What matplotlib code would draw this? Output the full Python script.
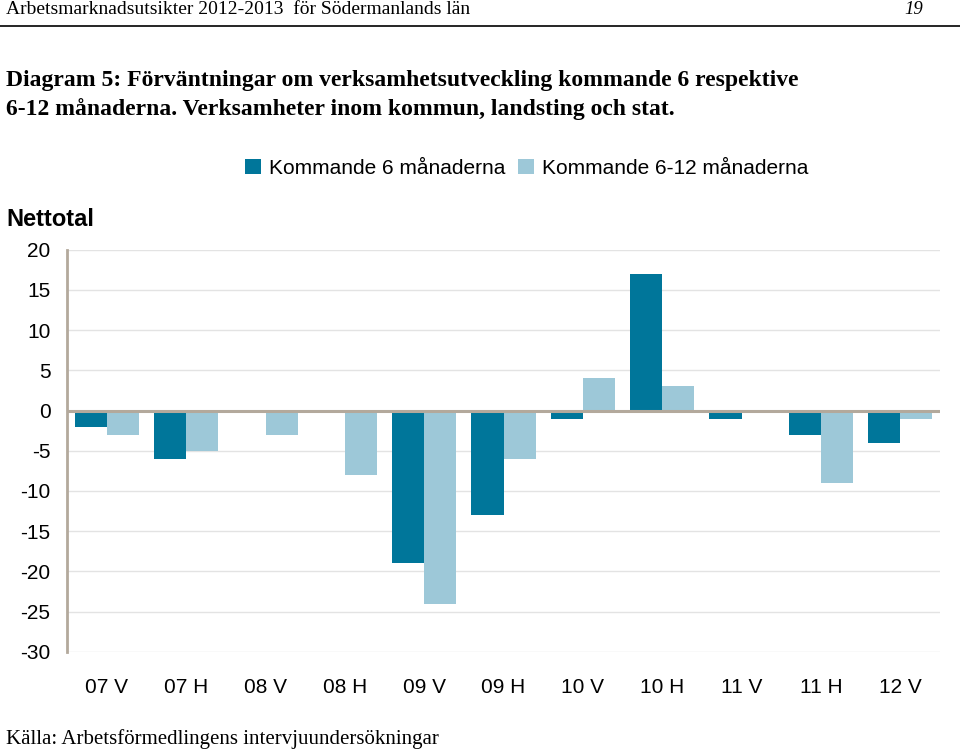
import matplotlib
matplotlib.use("Agg")
import matplotlib.pyplot as plt
import numpy as np

categories = ["07 V", "07 H", "08 V", "08 H", "09 V", "09 H", "10 V", "10 H", "11 V", "11 H", "12 V"]
kommande_6 = [-2, -6, 0, 0, -19, -13, -1, 17, -1, -3, -4]
kommande_6_12 = [-3, -5, -3, -8, -24, -6, 4, 3, 0, -9, -1]
yticks = [20, 15, 10, 5, 0, -5, -10, -15, -20, -25, -30]

dark = "#00769A"
light = "#9DC8D8"
axis_col = "#B3A99C"

fig = plt.figure(figsize=(9.6, 7.5), dpi=100)
ax = fig.add_axes([0.07, 0.131, 0.909, 0.536])

x = np.arange(len(categories))
w = 0.405
ax.bar(x - w / 2, kommande_6, w, color=dark, label="Kommande 6 månaderna", zorder=3)
ax.bar(x + w / 2, kommande_6_12, w, color=light, label="Kommande 6-12 månaderna", zorder=3)

ax.set_xlim(-0.5, len(categories) - 0.5)
ax.set_ylim(-30, 20)
ax.set_yticks(yticks)
ax.set_yticklabels([str(t) for t in yticks], fontsize=15, family="Liberation Sans")
ax.yaxis.grid(True, color="#E3E3E3", linewidth=1, zorder=0)
ax.axhline(0, color=axis_col, linewidth=2.2, zorder=4)
for s in ["top", "right", "bottom"]:
    ax.spines[s].set_visible(False)
ax.spines["left"].set_color(axis_col)
ax.spines["left"].set_linewidth(2)
ax.tick_params(axis="y", length=0, pad=12)
ax.tick_params(axis="x", length=0, pad=19)
ax.set_xticks(x)
ax.set_xticklabels(categories, fontsize=15, family="Liberation Sans")

leg = fig.legend(loc="upper left", bbox_to_anchor=(0.236, 0.813), ncol=2, frameon=False,
                 prop={"family": "Liberation Sans", "size": 15}, handlelength=0.75,
                 handleheight=0.75, handletextpad=0.4, columnspacing=0.6)

fig.text(0.007, 0.708, "Nettotal", fontsize=17, family="Liberation Sans", fontweight="bold", va="center")

# Header
fig.text(0.006, 0.987, "Arbetsmarknadsutsikter 2012-2013  för Södermanlands län", fontsize=14,
         family="Liberation Serif", va="center")
fig.text(0.962, 0.987, "19", fontsize=13.5, family="Liberation Serif", style="italic", va="center", ha="right")
fig.add_artist(plt.Line2D([0.0, 1.0], [0.966, 0.966], color="black", linewidth=1.2))

fig.text(0.006, 0.893, "Diagram 5: Förväntningar om verksamhetsutveckling kommande 6 respektive",
         fontsize=17, family="Liberation Serif", fontweight="bold", va="center")
fig.text(0.006, 0.855, "6-12 månaderna. Verksamheter inom kommun, landsting och stat.",
         fontsize=17, family="Liberation Serif", fontweight="bold", va="center")

fig.text(0.006, 0.014, "Källa: Arbetsförmedlingens intervjuundersökningar", fontsize=15,
         family="Liberation Serif", va="center")

fig.savefig("out.png", dpi=100)
